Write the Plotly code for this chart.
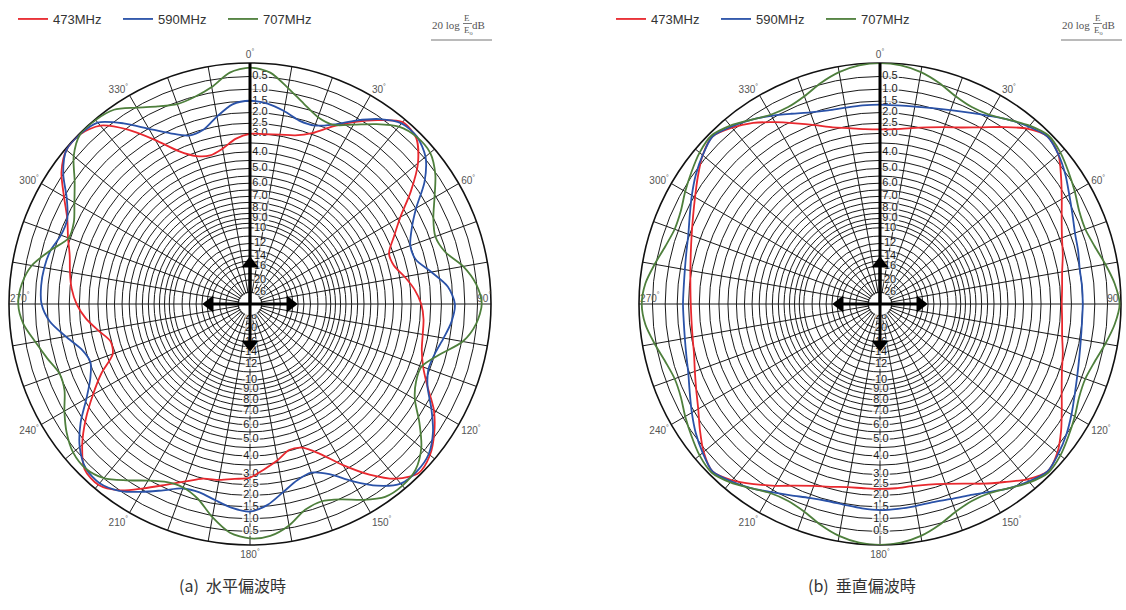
import math
import numpy as np
import plotly.graph_objects as go

W, H = 1126, 610

# Azimuth in degrees, clockwise from the top (0 deg)
ANGLES = list(range(0, 360, 5))

# (a) horizontal polarisation, relative level in dB (0 = outer ring)
H_473 = [3.02, 3.01, 2.93, 2.80, 2.45, 1.80, 1.18, 0.62, 0.13, 0.22, 0.82, 1.78,
         2.85, 3.63, 4.24, 4.18, 3.72, 3.28, 2.97, 2.82, 2.76, 2.64, 2.33, 1.80,
         1.10, 0.60, 0.22, 0.08, 0.48, 1.27, 2.25, 3.27, 3.95, 4.05, 3.63, 3.25,
         2.85, 2.75, 2.60, 2.50, 2.12, 1.64, 1.08, 0.50, 0.18, 0.26, 0.83, 1.60,
         2.47, 3.35, 4.35, 4.45, 3.90, 3.30, 2.86, 2.58, 2.40, 2.22, 1.90, 1.55,
         1.00, 0.40, 0.05, 0.03, 0.30, 1.08, 2.10, 3.10, 3.70, 3.90, 3.68, 3.25]
H_590 = [1.48, 1.57, 1.80, 2.07, 2.07, 1.70, 1.12, 0.57, 0.19, 0.17, 0.44, 1.07,
         1.98, 2.61, 3.00, 2.95, 2.34, 1.68, 1.41, 1.52, 1.77, 2.00, 2.07, 1.80,
         1.22, 0.66, 0.28, 0.17, 0.24, 0.72, 1.43, 2.17, 2.56, 2.42, 2.02, 1.55,
         1.30, 1.42, 1.65, 1.84, 1.78, 1.38, 0.91, 0.48, 0.26, 0.32, 0.70, 1.33,
         2.12, 2.72, 3.04, 2.80, 2.20, 1.58, 1.26, 1.21, 1.24, 1.34, 1.57, 1.55,
         1.13, 0.48, 0.05, 0.03, 0.15, 0.77, 1.52, 2.14, 2.57, 2.52, 2.05, 1.60]
H_707 = [0.17, 0.32, 0.82, 1.30, 1.67, 1.72, 1.32, 0.81, 0.35, 0.18, 0.21, 0.55,
         1.07, 1.52, 1.74, 1.54, 0.93, 0.52, 0.34, 0.52, 0.95, 1.80, 2.41, 2.38,
         2.05, 1.33, 0.65, 0.25, 0.14, 0.20, 0.55, 0.97, 1.20, 1.07, 0.60, 0.30,
         0.24, 0.42, 0.93, 1.55, 1.83, 1.77, 1.45, 0.98, 0.51, 0.31, 0.37, 0.64,
         1.02, 1.42, 1.50, 1.20, 0.87, 0.50, 0.34, 0.44, 0.73, 1.33, 1.93, 1.87,
         1.50, 1.03, 0.40, 0.03, 0.03, 0.14, 0.53, 0.87, 1.08, 1.02, 0.78, 0.32]

# (b) vertical polarisation
V_473 = [2.80, 2.75, 2.60, 2.40, 2.15, 1.85, 1.45, 0.95, 0.45, 0.15, 0.30, 0.75,
         1.20, 1.60, 1.90, 2.10, 2.30, 2.40, 2.45, 2.40, 2.30, 2.10, 1.90, 1.60,
         1.20, 0.75, 0.35, 0.15, 0.45, 0.90, 1.30, 1.70, 2.00, 2.20, 2.30, 2.30,
         2.30, 2.30, 2.25, 2.10, 1.90, 1.60, 1.20, 0.80, 0.40, 0.15, 0.40, 0.80,
         1.20, 1.50, 1.75, 1.95, 2.05, 2.10, 2.10, 2.05, 1.95, 1.80, 1.60, 1.35,
         1.05, 0.70, 0.35, 0.15, 0.40, 0.75, 1.20, 1.65, 2.05, 2.40, 2.60, 2.75]
V_590 = [1.65, 1.65, 1.60, 1.50, 1.35, 1.15, 0.90, 0.60, 0.35, 0.15, 0.30, 0.55,
         0.85, 1.10, 1.30, 1.40, 1.50, 1.50, 1.50, 1.50, 1.45, 1.35, 1.20, 1.00,
         0.75, 0.50, 0.30, 0.15, 0.35, 0.60, 0.90, 1.15, 1.30, 1.40, 1.40, 1.38,
         1.36, 1.40, 1.45, 1.45, 1.35, 1.15, 0.90, 0.60, 0.35, 0.15, 0.35, 0.60,
         0.90, 1.20, 1.45, 1.60, 1.70, 1.75, 1.75, 1.75, 1.70, 1.60, 1.45, 1.20,
         0.90, 0.60, 0.35, 0.15, 0.35, 0.60, 0.90, 1.20, 1.45, 1.60, 1.65, 1.65]
V_707 = [0.00, 0.05, 0.20, 0.45, 0.75, 0.90, 0.85, 0.60, 0.30, 0.10, 0.20, 0.40,
         0.60, 0.80, 0.85, 0.70, 0.45, 0.20, 0.05, 0.20, 0.45, 0.70, 0.85, 0.80,
         0.60, 0.40, 0.20, 0.10, 0.30, 0.60, 0.85, 0.90, 0.75, 0.45, 0.20, 0.05,
         0.00, 0.05, 0.20, 0.45, 0.75, 0.90, 0.85, 0.60, 0.30, 0.10, 0.20, 0.40,
         0.60, 0.80, 0.85, 0.70, 0.45, 0.20, 0.10, 0.20, 0.45, 0.70, 0.85, 0.80,
         0.60, 0.40, 0.20, 0.10, 0.30, 0.60, 0.85, 0.90, 0.75, 0.45, 0.20, 0.05]

SERIES = ["473MHz", "590MHz", "707MHz"]
COLORS = ["#e8282e", "#2a52a8", "#4e7f3c"]

# Radial scale labels (dB) and the grid circles
DB_TICKS = [0.5, 1.0, 1.5, 2.0, 2.5, 3.0, 4.0, 5.0, 6.0, 7.0, 8.0, 9.0, 10, 12, 14, 16, 20, 26]
DB_TICK_TEXT = ["0.5", "1.0", "1.5", "2.0", "2.5", "3.0", "4.0", "5.0", "6.0", "7.0",
                "8.0", "9.0", "10", "12", "14", "16", "20", "26"]
DB_GRID = [x / 2 for x in range(1, 21)] + [11, 12, 13, 14, 15, 16, 18, 20, 26]

ANGLE_LABELS = list(range(0, 360, 30))
CAPTIONS = ["(a)  水平偏波時", "(b)  垂直偏波時"]

# Geometry of the two polar plots (pixels)
CENTERS = [(250, 304), (880, 304)]
RADIUS = 241

ARROW_LEN = 0.195       # arrow cross in the centre (fraction of radius)
HUB = 0.045             # white hub radius


def field(db):
    """Relative field strength for a level in dB below the maximum."""
    return 10 ** (-np.asarray(db, dtype=float) / 20.0)


def shifted(rfrac, base_deg, dx_px):
    """Polar position of a point moved dx_px sideways from a spoke."""
    rp = rfrac * RADIUS
    r = math.hypot(rp, dx_px) / RADIUS
    t = base_deg + math.degrees(math.atan2(dx_px, rp)) * (1 if base_deg == 0 else -1)
    return r, t


fig = go.Figure()
NUM_FONT = "Liberation Sans Narrow, Liberation Sans, Arial"
label_font = dict(family=NUM_FONT, size=11, color="#1a1a1a")
skip = dict(showlegend=False, hoverinfo="skip")


def add_panel(idx, data):
    polar = "polar" if idx == 0 else "polar2"
    legend = "legend" if idx == 0 else "legend2"
    th_closed = ANGLES + [ANGLES[0]]

    # dB scale labels along the 0 deg and 180 deg spokes, on white plates
    for base, dx in [(0, 10), (180, 1)]:
        pos = [shifted(field(v), base, dx) for v in DB_TICKS]
        rr = [p[0] for p in pos]
        tt = [p[1] for p in pos]
        fig.add_trace(go.Scatterpolar(
            r=rr, theta=tt, mode="markers",
            marker=dict(symbol="line-ew",
                        size=[9 if len(s) == 2 else 13 for s in DB_TICK_TEXT],
                        line=dict(color="white", width=9)),
            subplot=polar, **skip))
        fig.add_trace(go.Scatterpolar(
            r=rr, theta=tt, mode="text", text=DB_TICK_TEXT, textposition="middle center",
            textfont=label_font, subplot=polar, **skip))

    # 90 / 270 deg labels sit just inside the rim
    fig.add_trace(go.Scatterpolar(
        r=[0.972, 0.955], theta=[90, 270], mode="text",
        text=["90<sup>°</sup>", "270<sup>°</sup>"], textposition="top center",
        textfont=dict(family=NUM_FONT, size=10, color="#555"), subplot=polar, **skip))

    # measured patterns
    for name, color, vals in zip(SERIES, COLORS, data):
        fig.add_trace(go.Scatterpolar(
            r=field(list(vals) + [vals[0]]), theta=th_closed, mode="lines",
            line=dict(color=color, width=1.8, shape="spline", smoothing=0.8),
            name=name, legend=legend, subplot=polar, hoverinfo="skip"))

    # white hub
    hub_t = list(range(0, 361, 10))
    fig.add_trace(go.Scatterpolar(
        r=[HUB] * len(hub_t), theta=hub_t, mode="lines", fill="toself",
        fillcolor="white", line=dict(color="white", width=0), subplot=polar, **skip))

    # heavy 0 deg spoke
    fig.add_trace(go.Scatterpolar(
        r=[0, 1], theta=[0, 0], mode="lines", line=dict(color="black", width=3),
        subplot=polar, **skip))

    # arrow cross
    for ang, sym in [(0, "triangle-up"), (90, "triangle-right"),
                     (180, "triangle-down"), (270, "triangle-left")]:
        fig.add_trace(go.Scatterpolar(
            r=[0, ARROW_LEN - 0.03], theta=[ang, ang], mode="lines",
            line=dict(color="black", width=3), subplot=polar, **skip))
        fig.add_trace(go.Scatterpolar(
            r=[ARROW_LEN - 0.028], theta=[ang], mode="markers",
            marker=dict(symbol=sym, size=15, color="black", line=dict(width=0)),
            subplot=polar, **skip))


add_panel(0, [H_473, H_590, H_707])
add_panel(1, [V_473, V_590, V_707])

angular = dict(
    rotation=90, direction="clockwise",
    tickmode="array", tickvals=list(range(0, 360, 10)),
    ticktext=[f"{a}<sup>°</sup>" if (a in ANGLE_LABELS and a not in (90, 270)) else ""
              for a in range(0, 360, 10)],
    ticks="", showline=True, linecolor="#111", linewidth=1.6,
    gridcolor="#1a1a1a", gridwidth=1,
    tickfont=dict(family=NUM_FONT, size=10, color="#555"),
    layer="below traces",
)
radial = dict(
    range=[0, 1], tickmode="array", tickvals=list(field(DB_GRID)),
    showticklabels=False, ticks="", showline=False,
    gridcolor="#1a1a1a", gridwidth=1, layer="below traces",
)


def domain(cx, cy):
    return dict(x=[(cx - RADIUS) / W, (cx + RADIUS) / W],
                y=[(H - cy - RADIUS) / H, (H - cy + RADIUS) / H])


legend_common = dict(
    orientation="h", xanchor="left", yanchor="top", bgcolor="rgba(0,0,0,0)",
    font=dict(family="Liberation Sans, Arial", size=13, color="#333"),
    itemwidth=30, entrywidth=60, tracegroupgap=0,
)

fig.update_layout(
    width=W, height=H, margin=dict(l=0, r=0, t=0, b=0),
    paper_bgcolor="white", plot_bgcolor="white",
    polar=dict(domain=domain(*CENTERS[0]), bgcolor="white",
               angularaxis=angular, radialaxis=radial),
    polar2=dict(domain=domain(*CENTERS[1]), bgcolor="white",
                angularaxis=angular, radialaxis=radial),
    legend=dict(x=13 / W, y=1 - 4 / H, **legend_common),
    legend2=dict(x=611 / W, y=1 - 4 / H, **legend_common),
)


def note(x, y, text, size, xanchor="center", **font):
    fig.add_annotation(x=x / W, y=1 - y / H, xref="paper", yref="paper", text=text,
                       showarrow=False, xanchor=xanchor, yanchor="middle",
                       font=dict(size=size, **font))


# captions and the scale note
serif = dict(family="Liberation Serif, DejaVu Serif", color="#555")
for i, (cx, cy) in enumerate(CENTERS):
    note(cx - 18, 585, CAPTIONS[i], 16, family="Noto Sans CJK JP", color="#333")
    nx = cx + 181
    note(nx + 14.5, 25, "20 log", 11, **serif)
    note(nx + 36.5, 18, "E", 9, **serif)
    note(nx + 37.5, 30.5, "E<sub>o</sub>", 9, **serif)
    note(nx + 47, 25, "dB", 11, **serif)
    fig.add_shape(type="line", xref="paper", yref="paper",
                  x0=(nx + 32) / W, x1=(nx + 41) / W, y0=1 - 23.5 / H, y1=1 - 23.5 / H,
                  line=dict(color="#555", width=0.8))
    fig.add_shape(type="line", xref="paper", yref="paper",
                  x0=nx / W, x1=(nx + 61) / W, y0=1 - 40 / H, y1=1 - 40 / H,
                  line=dict(color="#777", width=1.2))

fig.write_html("out.html")
